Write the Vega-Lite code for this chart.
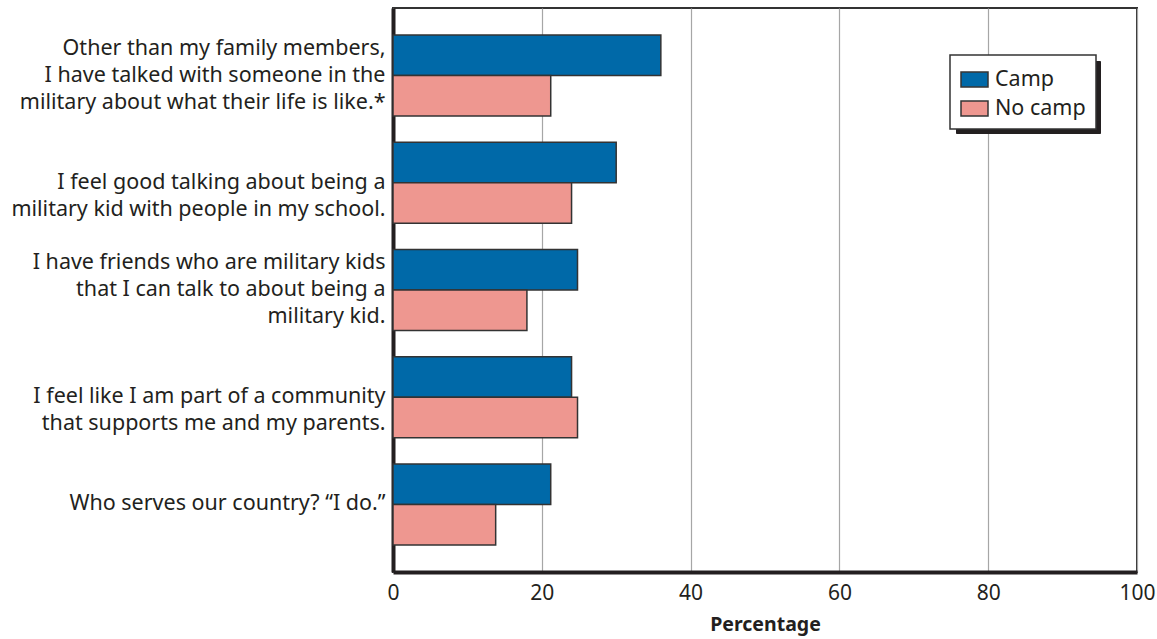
{
  "$schema": "https://vega.github.io/schema/vega-lite/v6.json",
  "width": 744,
  "height": 564,
  "autosize": {"type": "none"},
  "padding": {"left": 393, "top": 8, "right": 20, "bottom": 67},
  "background": "white",
  "data": {
    "values": [
      {"q": "Other than my family members,|I have talked with someone in the|military about what their life is like.*", "group": "Camp", "pct": 36},
      {"q": "Other than my family members,|I have talked with someone in the|military about what their life is like.*", "group": "No camp", "pct": 21.2},
      {"q": "I feel good talking about being a|military kid with people in my school.", "group": "Camp", "pct": 30},
      {"q": "I feel good talking about being a|military kid with people in my school.", "group": "No camp", "pct": 24},
      {"q": "I have friends who are military kids|that I can talk to about being a|military kid.", "group": "Camp", "pct": 24.8},
      {"q": "I have friends who are military kids|that I can talk to about being a|military kid.", "group": "No camp", "pct": 18},
      {"q": "I feel like I am part of a community|that supports me and my parents.", "group": "Camp", "pct": 24},
      {"q": "I feel like I am part of a community|that supports me and my parents.", "group": "No camp", "pct": 24.8},
      {"q": "Who serves our country? \u201cI do.\u201d", "group": "Camp", "pct": 21.2},
      {"q": "Who serves our country? \u201cI do.\u201d", "group": "No camp", "pct": 13.8}
    ]
  },
  "config": {
    "font": "Noto Sans",
    "view": {"stroke": "#333333", "strokeWidth": 2},
    "axis": {"labelColor": "#231f20", "titleColor": "#231f20"}
  },
  "mark": {"type": "bar", "stroke": "#333333", "strokeWidth": 1.5},
  "encoding": {
    "y": {
      "field": "q",
      "type": "nominal",
      "sort": null,
      "scale": {"paddingInner": 0.245, "paddingOuter": 0.252},
      "axis": {
        "title": null,
        "labelExpr": "split(datum.label, '|')",
        "labelFontSize": 21.5,
        "labelLineHeight": 27,
        "labelLimit": 400,
        "labelPadding": 8,
        "labelBaseline": "middle",
        "labelOffset": {
          "condition": {"test": "length(split(datum.value, '|')) == 3", "value": -27},
          "value": 0
        },
        "ticks": false,
        "domainColor": "#231f20",
        "domainWidth": 4,
        "grid": false
      }
    },
    "yOffset": {
      "field": "group",
      "type": "nominal",
      "sort": ["Camp", "No camp"],
      "scale": {"paddingInner": 0, "paddingOuter": 0}
    },
    "x": {
      "field": "pct",
      "type": "quantitative",
      "scale": {"domain": [0, 100], "nice": false},
      "axis": {
        "title": "Percentage",
        "titleFontSize": 19.5,
        "titleFontWeight": "bold",
        "titlePadding": 12,
        "values": [0, 20, 40, 60, 80, 100],
        "labelFontSize": 21,
        "labelPadding": 10,
        "labelFlush": false,
        "ticks": false,
        "domainColor": "#231f20",
        "domainWidth": 4,
        "grid": true,
        "gridColor": "#a6a6a6",
        "gridWidth": 1.2
      }
    },
    "opacity": {
      "field": "q",
      "type": "nominal",
      "scale": {"range": [1, 1]},
      "legend": {
        "title": null,
        "orient": "none",
        "legendX": 563,
        "legendY": 53,
        "zindex": 0,
        "values": ["Other than my family members,|I have talked with someone in the|military about what their life is like.*", "I feel good talking about being a|military kid with people in my school."],
        "labelExpr": "indexof(datum.label, 'Other') == 0 ? 'Camp' : 'No camp'",
        "fillColor": "#231f20",
        "strokeColor": "#231f20",
        "padding": 10,
        "labelFontSize": 21.5,
        "labelOpacity": 0,
        "rowPadding": 4,
        "symbolType": "M -1 -0.55 L 1 -0.55 L 1 0.55 L -1 0.55 Z",
        "symbolSize": 729,
        "symbolOpacity": 0,
        "symbolStrokeWidth": 0,
        "labelOffset": 6
      }
    },
    "color": {
      "field": "group",
      "type": "nominal",
      "scale": {"domain": ["Camp", "No camp"], "range": ["#0069a8", "#ee9790"]},
      "legend": {
        "title": null,
        "orient": "none",
        "legendX": 557,
        "legendY": 47,
        "zindex": 1,
        "fillColor": "white",
        "strokeColor": "#333333",
        "padding": 10,
        "labelFontSize": 21.5,
        "labelColor": "#231f20",
        "rowPadding": 4,
        "symbolType": "M -1 -0.55 L 1 -0.55 L 1 0.55 L -1 0.55 Z",
        "symbolSize": 729,
        "symbolStrokeColor": "#333333",
        "symbolStrokeWidth": 1.5,
        "symbolOpacity": 1,
        "labelOffset": 6,
        "encode": {"legend": {"update": {"strokeWidth": {"value": 1.5}}}}
      }
    }
  }
}
